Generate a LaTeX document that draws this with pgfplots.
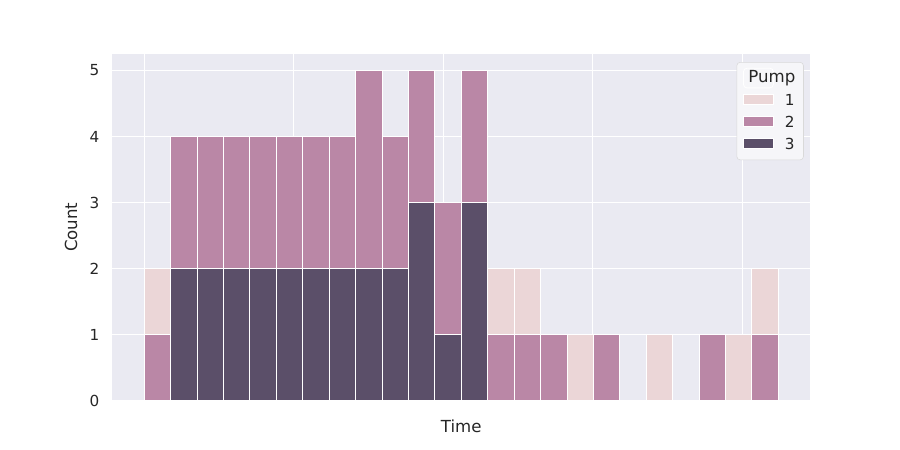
\documentclass[border=0pt]{standalone}
\usepackage{fontspec}
\setmainfont{DejaVu Sans}
\usepackage{pgfplots}
\pgfplotsset{compat=1.18}
\definecolor{bgc}{HTML}{EAEAF2}
\definecolor{pone}{HTML}{EBD6D7}
\definecolor{ptwo}{HTML}{BA87A6}
\definecolor{pthree}{HTML}{5B4F69}
\begin{document}
\begin{tikzpicture}
\begin{axis}[
  scale only axis, width=6.975in, height=3.465in,
  at={(0,0)}, anchor=south west,
  xmin=-1.2, xmax=25.2, ymin=0, ymax=5.25,
  axis background/.style={fill=bgc},
  axis line style={draw=none},
  xmajorgrids, ymajorgrids,
  major grid style={white, line width=0.9pt},
  xtick={0,5.66,11.32,16.98,22.64}, xticklabels={},
  ytick={0,1,2,3,4,5},
  major tick length=0pt,
  tick label style={font=\fontsize{11}{13}\selectfont, text=black!85},
  yticklabel style={xshift=-6pt},
  /pgf/number format/assume math mode=true,
  xlabel={Time}, ylabel={Count},
  label style={font=\fontsize{12}{14}\selectfont, text=black!85},
  xlabel style={at={(axis description cs:0.5,0)}, anchor=center, yshift=-19pt},
  ylabel style={yshift=2pt},
  ybar, bar width=1, bar shift=0pt,
  every axis plot/.append style={draw=white, line width=0.6pt},
  legend style={at={(axis description cs:1,1)}, xshift=-4.5pt, yshift=-5.8pt, anchor=north east,
    fill=bgc!45!white, draw=black!15, rounded corners=2.5pt,
    font=\fontsize{11}{13}\selectfont, text=black!85, row sep=2.3pt, inner xsep=4.5pt, inner ysep=4pt,
    /tikz/every odd column/.append style={column sep=6pt}},
  legend cell align=left,
  legend image code/.code={\draw[#1, draw=white, line width=0.5pt, sharp corners] (0pt,-2.4pt) rectangle (21.6pt,4.6pt);},
]
\addlegendimage{legend image code/.code={%
  \path (0pt,-4.2pt) rectangle (21.6pt,10pt);
  \node[overlay, anchor=base, font=\fontsize{12}{14}\selectfont, text=black!85, inner sep=0pt] at (20.5pt,0pt) {Pump};}}
\addlegendentry{}
% Pump 1
\addplot[fill=pone] coordinates {(0.5,2) (13.5,2) (14.5,2) (16.5,1) (19.5,1) (22.5,1) (23.5,2)};
\addlegendentry{1}
% Pump 2
\addplot[fill=ptwo] coordinates {(0.5,1) (1.5,4) (2.5,4) (3.5,4) (4.5,4) (5.5,4) (6.5,4) (7.5,4) (8.5,5) (9.5,4) (10.5,5) (11.5,3) (12.5,5) (13.5,1) (14.5,1) (15.5,1) (17.5,1) (21.5,1) (23.5,1)};
\addlegendentry{2}
% Pump 3
\addplot[fill=pthree] coordinates {(1.5,2) (2.5,2) (3.5,2) (4.5,2) (5.5,2) (6.5,2) (7.5,2) (8.5,2) (9.5,2) (10.5,3) (11.5,1) (12.5,3)};
\addlegendentry{3}
\end{axis}
\useasboundingbox (-1.125in,-0.495in) rectangle (7.875in,4.005in);
\end{tikzpicture}
\end{document}
